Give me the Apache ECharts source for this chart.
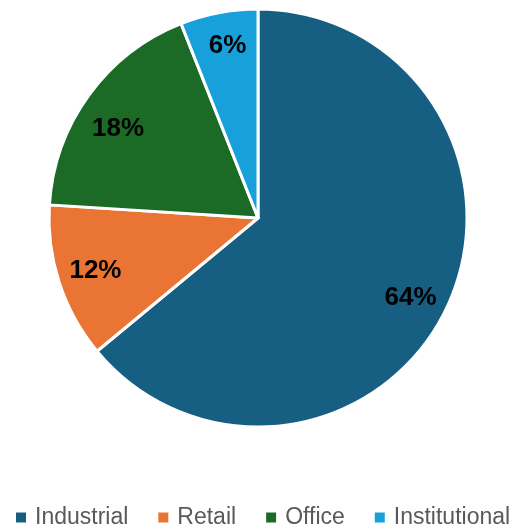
<!DOCTYPE html>
<html><head><meta charset="utf-8">
<script src="https://cdn.jsdelivr.net/npm/echarts@6/dist/echarts.min.js"></script>
<style>html,body{margin:0;padding:0;background:#fff}#c{width:514px;height:527px}</style>
</head><body><div id="c"></div>
<script>
var categories = ['Industrial', 'Retail', 'Office', 'Institutional'];
var values = [64, 12, 18, 6];
var colors = ['#175f82', '#ea7433', '#1b6b26', '#17a0d9'];

var data = categories.map(function (n, i) {
  return { name: n, value: values[i], itemStyle: { color: colors[i] } };
});
// small label nudges (style only) to mimic the original label placement
var nudges = { Industrial: [-4, 6], Retail: [2, -1], Office: [0, 13], Institutional: [2, -2] };
var labelData = categories.map(function (n, i) {
  return { name: n, value: values[i], label: { offset: nudges[n] } };
});

var chart = echarts.init(document.getElementById('c'), null, { renderer: 'canvas' });
chart.setOption({
  animation: false,
  legend: {
    top: 506,
    left: 14,
    width: 600,
    padding: 0,
    itemWidth: 12,
    itemHeight: 12,
    itemGap: 28,
    icon: 'rect',
    textStyle: { fontFamily: 'Liberation Sans', fontSize: 23, color: '#595959', padding: [0, 0, 0, 3] },
    data: categories.map(function (n, i) { return { name: n, itemStyle: { color: colors[i] } }; })
  },
  series: [
    {
      type: 'pie',
      center: [258, 218],
      radius: [0, 209],
      startAngle: 90,
      clockwise: true,
      avoidLabelOverlap: false,
      label: { show: false },
      labelLine: { show: false },
      itemStyle: { borderColor: '#ffffff', borderWidth: 3 },
      emphasis: { disabled: true },
      data: data
    },
    {
      type: 'pie',
      center: [258, 218],
      radius: [131, 209],
      startAngle: 90,
      clockwise: true,
      silent: true,
      avoidLabelOverlap: false,
      itemStyle: { color: 'rgba(0,0,0,0)', borderWidth: 0 },
      label: {
        show: true,
        position: 'inside',
        formatter: '{c}%',
        fontFamily: 'Liberation Sans',
        fontWeight: 'bold',
        fontSize: 26,
        color: '#000000'
      },
      labelLine: { show: false },
      emphasis: { disabled: true },
      data: labelData
    }
  ]
});
</script></body></html>
